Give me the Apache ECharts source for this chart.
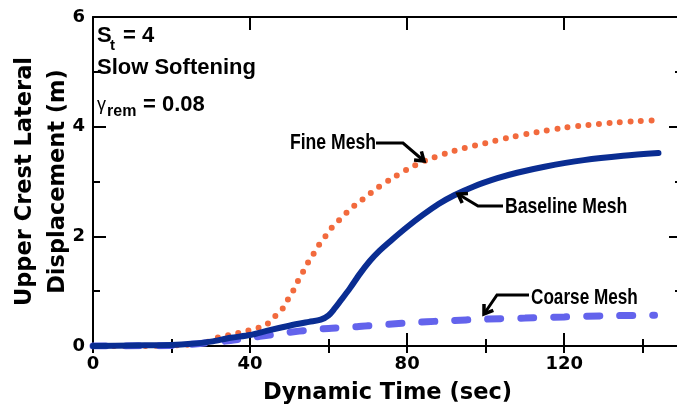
<!DOCTYPE html>
<html><head><meta charset="utf-8">
<script src="https://cdn.jsdelivr.net/npm/echarts@6/dist/echarts.min.js"></script>
<style>html,body{margin:0;padding:0;background:#fff}#c{width:677px;height:409px}</style>
</head><body><div id="c"></div>
<script>
// ---- data (time in sec, displacement in m) ----
const baselineT = [0, 10, 20, 25, 30, 35, 40, 45, 50, 55, 58, 60, 61.5, 63, 65.5, 68, 70.5, 73, 76, 80, 84, 88, 92, 97, 103, 108, 115, 125, 135, 144];
const baselineY = [0, 0.01, 0.02, 0.04, 0.08, 0.15, 0.20, 0.29, 0.37, 0.44, 0.48, 0.56, 0.68, 0.82, 1.06, 1.32, 1.55, 1.74, 1.93, 2.17, 2.39, 2.59, 2.75, 2.91, 3.06, 3.16, 3.27, 3.39, 3.47, 3.52];
const fineT = [0, 10, 20, 28, 32, 36, 39, 42, 44, 46, 48, 49.2, 50.7, 52, 53.2, 54.4, 55.7, 57, 58.5, 60, 61.2, 63.2, 65.3, 67.3, 69.5, 71.8, 76, 80, 85, 92, 100, 106, 113, 120, 126, 132, 138, 144];
const fineY = [0, 0, 0.01, 0.05, 0.16, 0.22, 0.27, 0.33, 0.38, 0.52, 0.65, 0.80, 0.97, 1.16, 1.31, 1.48, 1.62, 1.79, 1.93, 2.08, 2.19, 2.33, 2.48, 2.60, 2.72, 2.85, 3.05, 3.22, 3.39, 3.56, 3.70, 3.80, 3.90, 3.98, 4.03, 4.07, 4.10, 4.12];
const coarseT = [0, 20, 28, 35, 40, 45, 50, 55, 60, 65, 70, 80, 90, 100, 110, 120, 130, 143];
const coarseY = [0, 0.01, 0.05, 0.10, 0.15, 0.20, 0.25, 0.29, 0.32, 0.34, 0.37, 0.42, 0.46, 0.49, 0.51, 0.53, 0.55, 0.56];
const xTicksMajor = 40, xTicksMinor = 20, yTicksMajor = 2;
const seriesNames = ['Fine Mesh', 'Coarse Mesh', 'Baseline Mesh'];

const pairs = (t, y) => t.map((v, i) => [v, y[i]]);
const BOLD = 'DejaVu Sans';
const chart = echarts.init(document.getElementById('c'), null, {renderer: 'canvas'});

const axLine = {show: true, onZero: false, lineStyle: {color: '#000', width: 2}};
function xAx(pos, interval, len, labels, extra) {
  return Object.assign({
    type: 'value', min: 0, max: 150, interval: interval, position: pos,
    axisLine: axLine,
    axisTick: {inside: true, length: len, lineStyle: {color: '#000', width: 2}},
    axisLabel: labels ? {show: true, showMaxLabel: false, margin: 9, color: '#000', fontFamily: BOLD, fontWeight: 'bold', fontSize: 18} : {show: false},
    splitLine: {show: false}
  }, extra || {});
}
function yAx(pos, labels, extra) {
  return Object.assign({
    type: 'value', min: 0, max: 6, interval: yTicksMajor, position: pos,
    axisLine: axLine,
    axisTick: {inside: true, length: 13, lineStyle: {color: '#000', width: 2}},
    minorTick: {show: true, splitNumber: 2, length: 7, lineStyle: {color: '#000', width: 2}},
    axisLabel: labels ? {show: true, margin: 8, color: '#000', fontFamily: BOLD, fontWeight: 'bold', fontSize: 18} : {show: false},
    splitLine: {show: false}, minorSplitLine: {show: false}
  }, extra || {});
}

const lineCommon = {type: 'line', xAxisIndex: 0, yAxisIndex: 0, showSymbol: false, symbol: 'none', smooth: 0.3};
const option = {
  backgroundColor: '#fff',
  animation: false,
  grid: {left: 93, top: 17, right: -5, bottom: 63, containLabel: false, outerBoundsMode: 'none'},
  xAxis: [
    xAx('bottom', xTicksMajor, 13, true, {
      name: 'Dynamic Time (sec)', nameLocation: 'middle', nameGap: 36, nameMoveOverlap: false,
      nameTextStyle: {color: '#000', fontFamily: BOLD, fontWeight: 'bold', fontSize: 22.5}
    }),
    xAx('bottom', xTicksMinor, 7, false, {axisLine: {show: false}}),
    xAx('top', xTicksMajor, 13, false),
    xAx('top', xTicksMinor, 7, false, {axisLine: {show: false}})
  ],
  yAxis: [
    yAx('left', true, {
      name: 'Upper Crest Lateral\nDisplacement (m)', nameLocation: 'middle', nameGap: 18, nameRotate: 90,
      nameMoveOverlap: false,
      nameTextStyle: {color: '#000', fontFamily: BOLD, fontWeight: 'bold', fontSize: 22.5, lineHeight: 33}
    }),
    yAx('right', false)
  ],
  series: [
    Object.assign({name: seriesNames[0], data: pairs(fineT, fineY), z: 2,
     lineStyle: {color: '#F26A3D', width: 6, type: [0, 10.5], cap: 'round'}}, lineCommon),
    Object.assign({name: seriesNames[1], data: pairs(coarseT, coarseY), z: 3,
     lineStyle: {color: '#6363EC', width: 7, type: [13, 20], cap: 'round'}}, lineCommon),
    Object.assign({name: seriesNames[2], data: pairs(baselineT, baselineY), z: 4,
     lineStyle: {color: '#0A2D92', width: 6, cap: 'round'}}, lineCommon)
  ]
};
chart.setOption(option);

// ---- annotations (pixel layout) ----
const ANNO_FONT = '"Liberation Sans", Arial, sans-serif';
function arrowGraphics(pts) {
  const n = pts.length, tip = pts[n - 1], prev = pts[n - 2];
  const ang = Math.atan2(tip[1] - prev[1], tip[0] - prev[0]);
  const L = 10, a = 0.6;
  const h1 = [tip[0] - L * Math.cos(ang - a), tip[1] - L * Math.sin(ang - a)];
  const h2 = [tip[0] - L * Math.cos(ang + a), tip[1] - L * Math.sin(ang + a)];
  return [
    {type: 'polyline', shape: {points: pts}, style: {stroke: '#000', lineWidth: 3, fill: null}, z: 100},
    {type: 'polyline', shape: {points: [h1, tip, h2]}, style: {stroke: '#000', lineWidth: 3.5, fill: null, lineJoin: 'miter'}, z: 100}
  ];
}
function annoText(txt, x, y, align, sx) {
  return {type: 'text', x: x, y: y, z: 100, scaleX: sx,
    style: {text: txt, font: 'bold 22px ' + ANNO_FONT, fill: '#000', align: align, verticalAlign: 'middle'}};
}
const g = [];
g.push(annoText(seriesNames[0], 376, 143, 'right', 0.8));
g.push(...arrowGraphics([[376, 143], [403, 143], [424, 161]]));
g.push(annoText(seriesNames[2], 505, 207, 'left', 0.8));
g.push(...arrowGraphics([[503, 206], [478, 206], [458, 194]]));
g.push(annoText(seriesNames[1], 531, 298, 'left', 0.78));
g.push(...arrowGraphics([[529, 295], [497, 295], [484, 314]]));

// corner text
const CF = '"Liberation Sans", Arial, sans-serif';
function ct(txt, x, y, size, weight) {
  return {type: 'text', x: x, y: y, z: 100,
    style: {text: txt, font: weight + ' ' + size + 'px ' + CF, fill: '#000', align: 'left', verticalAlign: 'middle'}};
}
g.push(ct('S', 97, 36, 22, 'bold'));
g.push(ct('t', 110, 46, 15, 'bold'));
g.push(ct('= 4', 123, 36, 22, 'bold'));
g.push(ct('Slow Softening', 97, 68, 22, 'bold'));
g.push(ct('γ', 97, 105, 18, 'normal'));
g.push(ct('rem', 107, 112, 16, 'bold'));
g.push(ct('= 0.08', 143, 105, 22, 'bold'));

chart.setOption({graphic: {elements: g}});
</script>
</body></html>
